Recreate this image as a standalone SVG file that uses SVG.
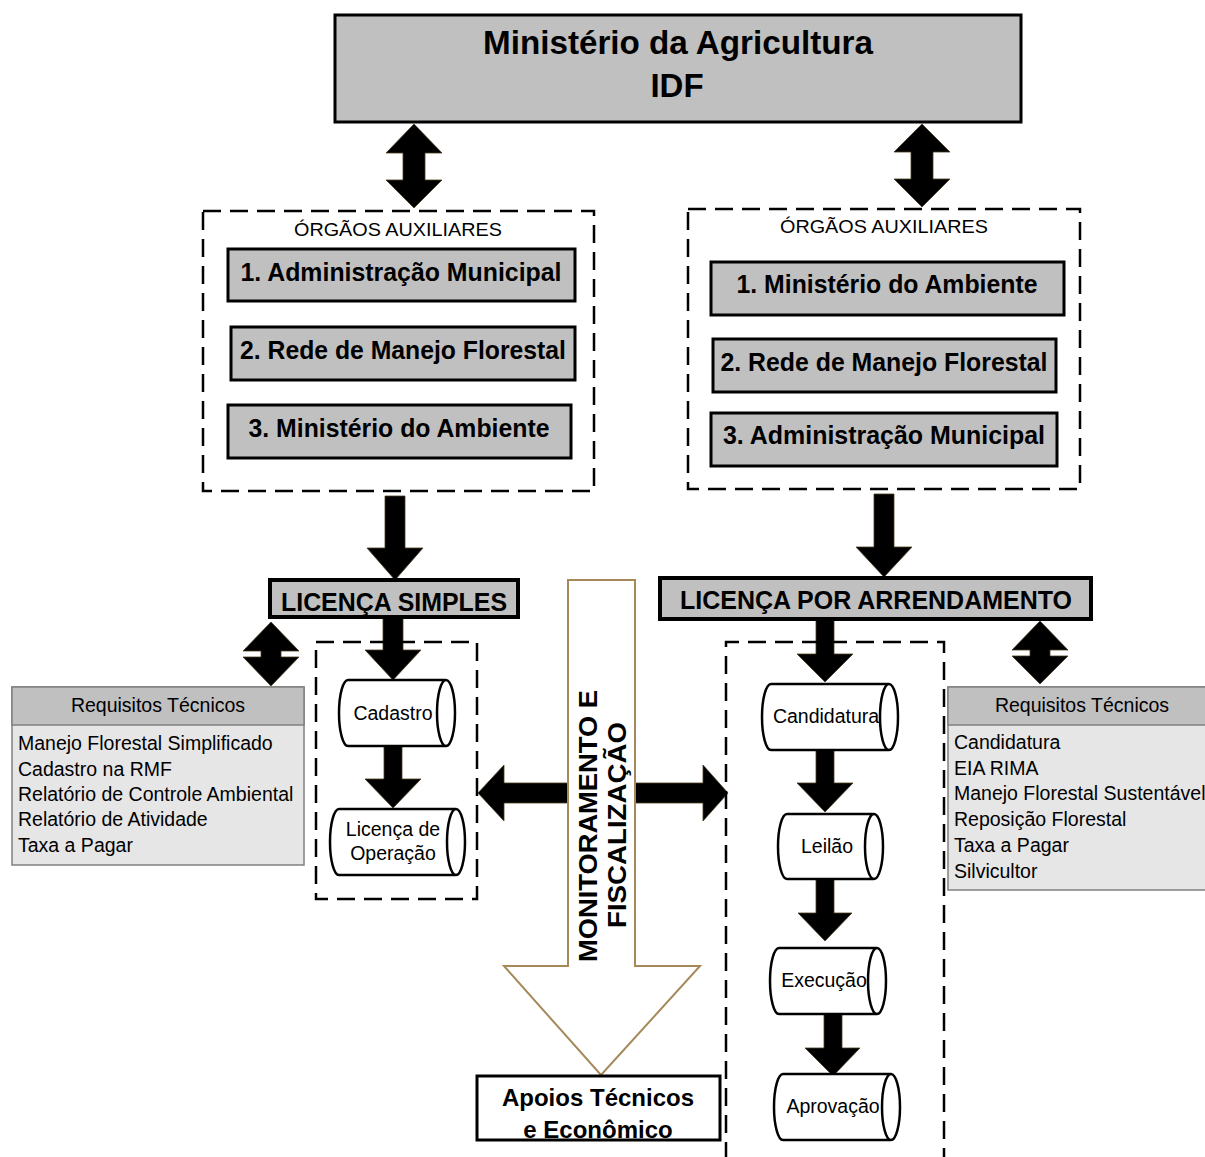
<svg xmlns="http://www.w3.org/2000/svg" width="1205" height="1157" viewBox="0 0 1205 1157">
<style>
text{font-family:"Liberation Sans",Arial,sans-serif;fill:#000}
.b{font-weight:bold}
.gbox{fill:#c0c0c0;stroke:#000;stroke-width:3}
.dash{fill:none;stroke:#000;stroke-width:2.5;stroke-dasharray:18 9}
.arr{fill:#000;stroke:#4a3a20;stroke-width:0.8}
.cyl{fill:#fff;stroke:#000;stroke-width:2.5}
.req{fill:#e6e6e6;stroke:#808080;stroke-width:1.5}
.reqh{fill:#c0c0c0;stroke:#808080;stroke-width:1.5}
.r{font-size:19.5px}
.sub{font-size:25px;font-weight:bold;text-anchor:middle}
.mid{text-anchor:middle}
</style>
<rect width="1205" height="1157" fill="#fff"/>

<g id="connectors">
  <!-- top double arrows -->
  <polygon class="arr" points="414,124 442,153 425,153 425,180 442,180 414,208 386,180 403,180 403,153 386,153"/>
  <polygon class="arr" points="922,124 950,152 933,152 933,179 950,179 922,207 894,179 911,179 911,152 894,152"/>
  <!-- down arrows from auxiliary boxes to licenses -->
  <polygon class="arr" points="385,496 405,496 405,548 423,548 395,580 367,548 385,548"/>
  <polygon class="arr" points="874,494 894,494 894,547 912,547 884,577 856,547 874,547"/>
  <!-- small double arrows to Requisitos -->
  <polygon class="arr" points="271,622 299,651 281,651 281,657 299,657 271,686 243,657 261,657 261,651 243,651"/>
  <polygon class="arr" points="1040,621 1068,650 1050,650 1050,656 1068,656 1040,684 1012,656 1030,656 1030,650 1012,650"/>
  <!-- left flow -->
  <polygon class="arr" points="383,617 403,617 403,650 421,650 393,680 365,650 383,650"/>
  <polygon class="arr" points="384,746 402,746 402,779 421,779 393,808 365,779 384,779"/>
  <!-- right flow -->
  <polygon class="arr" points="816,619 834,619 834,654 853,654 825,682 797,654 816,654"/>
  <polygon class="arr" points="816,750 834,750 834,783 853,783 825,812 797,783 816,783"/>
  <polygon class="arr" points="816,879 834,879 834,913 852,913 825,941 798,913 816,913"/>
  <polygon class="arr" points="824,1014 842,1014 842,1048 860,1048 833,1076 805,1048 824,1048"/>
  <!-- side arrows from monitoring arrow -->
  <polygon class="arr" points="568,783 504,783 504,765 478,793 504,821 504,803 568,803"/>
  <polygon class="arr" points="635,783 703,783 703,765 728,793 703,821 703,803 635,803"/>
</g>

<g id="ministerio">
  <rect class="gbox" x="335" y="15" width="686" height="107"/>
  <text class="b mid" x="678" y="54" font-size="33" textLength="390" lengthAdjust="spacingAndGlyphs">Ministério da Agricultura</text>
  <text class="b mid" x="677" y="97" font-size="33">IDF</text>
</g>

<g id="orgaos-esq">
  <rect class="dash" x="203" y="211" width="391" height="280"/>
  <text class="mid" x="398" y="236" font-size="19" textLength="208" lengthAdjust="spacingAndGlyphs">ÓRGÃOS AUXILIARES</text>
  <rect class="gbox" x="228" y="249" width="347" height="52"/>
  <text class="sub" x="401" y="281" textLength="321" lengthAdjust="spacingAndGlyphs">1. Administração Municipal</text>
  <rect class="gbox" x="231" y="327" width="344" height="53"/>
  <text class="sub" x="403" y="359" textLength="326" lengthAdjust="spacingAndGlyphs">2. Rede de Manejo Florestal</text>
  <rect class="gbox" x="228" y="405" width="343" height="53"/>
  <text class="sub" x="399" y="437" textLength="301" lengthAdjust="spacingAndGlyphs">3. Ministério do Ambiente</text>
</g>

<g id="orgaos-dir">
  <rect class="dash" x="688" y="209" width="392" height="280"/>
  <text class="mid" x="884" y="233" font-size="19" textLength="208" lengthAdjust="spacingAndGlyphs">ÓRGÃOS AUXILIARES</text>
  <rect class="gbox" x="711" y="262" width="353" height="53"/>
  <text class="sub" x="887" y="293" textLength="301" lengthAdjust="spacingAndGlyphs">1. Ministério do Ambiente</text>
  <rect class="gbox" x="713" y="339" width="343" height="53"/>
  <text class="sub" x="884" y="371" textLength="327" lengthAdjust="spacingAndGlyphs">2. Rede de Manejo Florestal</text>
  <rect class="gbox" x="711" y="413" width="346" height="53"/>
  <text class="sub" x="884" y="444" textLength="322" lengthAdjust="spacingAndGlyphs">3. Administração Municipal</text>
</g>

<g id="licenca-simples">
  <rect x="270" y="580" width="248" height="37" fill="#c0c0c0" stroke="#000" stroke-width="4"/>
  <text class="b mid" x="394" y="611" font-size="25" textLength="226" lengthAdjust="spacingAndGlyphs">LICENÇA SIMPLES</text>
</g>

<g id="licenca-arrendamento">
  <rect x="660" y="578" width="431" height="41" fill="#c0c0c0" stroke="#000" stroke-width="4"/>
  <text class="b mid" x="876" y="609" font-size="25" textLength="392" lengthAdjust="spacingAndGlyphs">LICENÇA POR ARRENDAMENTO</text>
</g>

<g id="requisitos-esq">
  <rect class="req" x="12" y="687" width="292" height="178"/>
  <rect class="reqh" x="12" y="687" width="292" height="38"/>
  <text class="r mid" x="158" y="712">Requisitos Técnicos</text>
  <text class="r" x="18" y="750">Manejo Florestal Simplificado</text>
  <text class="r" x="18" y="776">Cadastro na RMF</text>
  <text class="r" x="18" y="801">Relatório de Controle Ambiental</text>
  <text class="r" x="18" y="826">Relatório de Atividade</text>
  <text class="r" x="18" y="852">Taxa a Pagar</text>
</g>

<g id="requisitos-dir">
  <rect class="req" x="948" y="687" width="259" height="203"/>
  <rect class="reqh" x="948" y="687" width="259" height="38"/>
  <text class="r mid" x="1082" y="712">Requisitos Técnicos</text>
  <text class="r" x="954" y="749">Candidatura</text>
  <text class="r" x="954" y="775">EIA RIMA</text>
  <text class="r" x="954" y="800">Manejo Florestal Sustentável</text>
  <text class="r" x="954" y="826">Reposição Florestal</text>
  <text class="r" x="954" y="852">Taxa a Pagar</text>
  <text class="r" x="954" y="878">Silvicultor</text>
</g>

<g id="fluxo-simples">
  <rect class="dash" x="316" y="642" width="161" height="257"/>
</g>

<g id="cadastro">
  <path class="cyl" d="M348,680 H446 A9,33 0 0 1 446,746 H348 A9,33 0 0 1 348,680 Z M446,680 A9,33 0 0 0 446,746"/>
  <text class="r mid" x="393" y="720">Cadastro</text>
</g>

<g id="licenca-operacao">
  <path class="cyl" d="M339,809 H456 A9,33 0 0 1 456,875 H339 A9,33 0 0 1 339,809 Z M456,809 A9,33 0 0 0 456,875"/>
  <text class="r mid" x="393" y="836">Licença de</text>
  <text class="r mid" x="393" y="860">Operação</text>
</g>

<g id="fluxo-arrendamento">
  <path class="dash" d="M726,1160 V642 H944 V1160"/>
</g>

<g id="candidatura">
  <path class="cyl" d="M771,684 H889 A9,33 0 0 1 889,750 H771 A9,33 0 0 1 771,684 Z M889,684 A9,33 0 0 0 889,750"/>
  <text class="r mid" x="826" y="723">Candidatura</text>
</g>

<g id="leilao">
  <path class="cyl" d="M787,814 H874 A9,32.5 0 0 1 874,879 H787 A9,32.5 0 0 1 787,814 Z M874,814 A9,32.5 0 0 0 874,879"/>
  <text class="r mid" x="827" y="853">Leilão</text>
</g>

<g id="execucao">
  <path class="cyl" d="M779,948 H877 A9,33 0 0 1 877,1014 H779 A9,33 0 0 1 779,948 Z M877,948 A9,33 0 0 0 877,1014"/>
  <text class="r mid" x="824" y="987">Execução</text>
</g>

<g id="aprovacao">
  <path class="cyl" d="M783,1074 H891 A9,33 0 0 1 891,1140 H783 A9,33 0 0 1 783,1074 Z M891,1074 A9,33 0 0 0 891,1140"/>
  <text class="r mid" x="833" y="1113">Aprovação</text>
</g>

<g id="monitoramento">
  <polygon points="568,580 635,580 635,966 700,966 601,1075 504,966 568,966" fill="#fff" stroke="#a5895a" stroke-width="2"/>
  <text class="b mid" font-size="26" transform="translate(597,826) rotate(-90)" textLength="272" lengthAdjust="spacingAndGlyphs">MONITORAMENTO E</text>
  <text class="b mid" font-size="26" transform="translate(626,825) rotate(-90)" textLength="206" lengthAdjust="spacingAndGlyphs">FISCALIZAÇÃO</text>
</g>

<g id="apoios">
  <rect x="477" y="1076" width="243" height="64" fill="#fff" stroke="#000" stroke-width="3"/>
  <text class="b mid" x="598" y="1106" font-size="24">Apoios Técnicos</text>
  <text class="b mid" x="598" y="1138" font-size="24">e Econômico</text>
</g>
</svg>
